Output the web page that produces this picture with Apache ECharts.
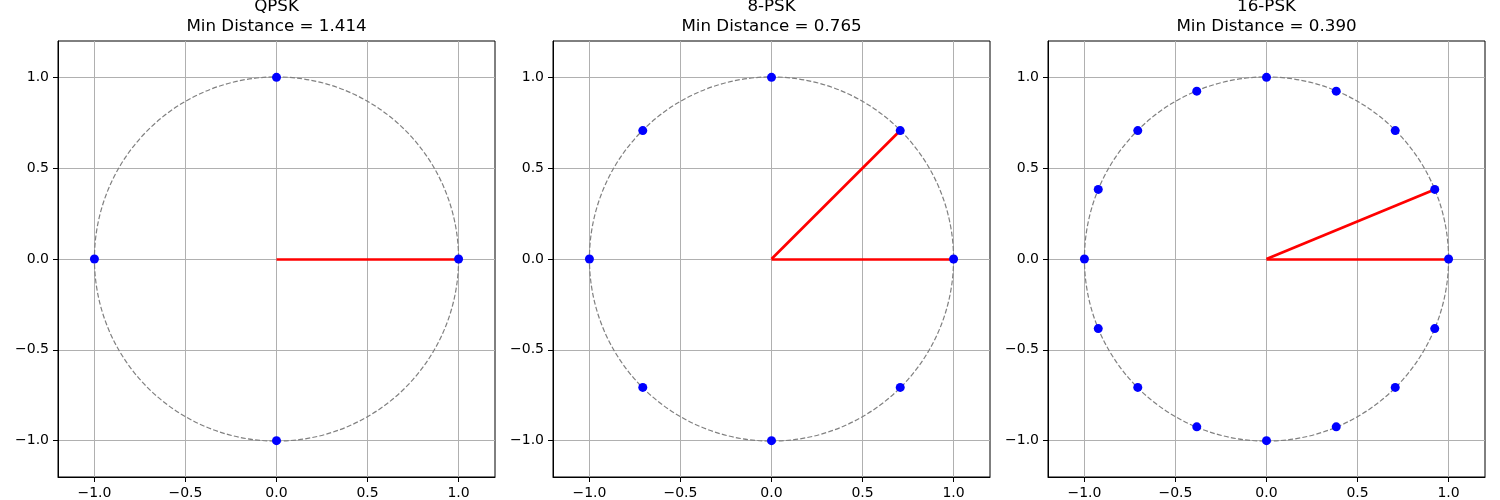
<!DOCTYPE html>
<html>
<head>
<meta charset="utf-8">
<title>PSK constellations</title>
<script src="https://cdn.jsdelivr.net/npm/echarts@6/dist/echarts.min.js"></script>
<style>
    html, body { margin: 0; padding: 0; background: #fff; }
    #main { width: 1500px; height: 500px; }
</style>
</head>
<body>
<div id="main"></div>
<script>
// constellation points
var qpskPoints = [[1, 0], [0, 1], [-1, 0], [0, -1]];
var psk8Points = [[1, 0], [0.707, 0.707], [0, 1], [-0.707, 0.707],
    [-1, 0], [-0.707, -0.707], [0, -1], [0.707, -0.707]];
var psk16Points = [[1, 0], [0.924, 0.383], [0.707, 0.707], [0.383, 0.924],
    [0, 1], [-0.383, 0.924], [-0.707, 0.707], [-0.924, 0.383],
    [-1, 0], [-0.924, -0.383], [-0.707, -0.707], [-0.383, -0.924],
    [0, -1], [0.383, -0.924], [0.707, -0.707], [0.924, -0.383]];

// red segments from the origin
var qpskLines = [[[0, 0], [1, 0]]];
var psk8Lines = [[[0, 0], [1, 0]], [[0, 0], [0.707, 0.707]]];
var psk16Lines = [[[0, 0], [1, 0]], [[0, 0], [0.924, 0.383]]];

var titles = ['QPSK\nMin Distance = 1.414', '8-PSK\nMin Distance = 0.765', '16-PSK\nMin Distance = 0.390'];
var tickValues = [-1, -0.5, 0, 0.5, 1];
var unitCircle = [[0, 0, 1]]; // center x, center y, radius

var allPoints = [qpskPoints, psk8Points, psk16Points];
var allLines = [qpskLines, psk8Lines, psk16Lines];

var myChart = echarts.init(document.getElementById('main'));
var font = 'DejaVu Sans';
var lefts = [58, 553, 1048];
var size = 437;

var fmt = function (v) {
    return (v < 0 ? '\u2212' : '') + Math.abs(v).toFixed(1);
};

var axisCommon = function (idx) {
    return {
        type: 'value',
        gridIndex: idx,
        min: -1.2,
        max: 1.2,
        axisLine: { show: true, onZero: false, lineStyle: { color: '#000', width: 1 } },
        axisTick: { show: true, inside: false, length: 5, customValues: tickValues, lineStyle: { color: '#000' } },
        axisLabel: { customValues: tickValues, formatter: fmt, color: '#000', fontFamily: font, fontSize: 14, margin: 9 },
        splitLine: { show: true, lineStyle: { color: '#b0b0b0', width: 1 } }
    };
};

var grid = [], xAxis = [], yAxis = [], title = [], series = [];
for (var i = 0; i < 3; i++) {
    grid.push({ left: lefts[i], top: 41, width: size, height: size, show: true, borderColor: '#000', borderWidth: 1 });
    xAxis.push(axisCommon(i));
    yAxis.push(axisCommon(i));
    title.push({
        text: titles[i],
        left: lefts[i] + size / 2,
        top: -3,
        padding: 0,
        textAlign: 'center',
        textStyle: { fontFamily: font, fontSize: 16.7, fontWeight: 'normal', color: '#000', lineHeight: 20 }
    });

    // dashed unit circle
    series.push({
        type: 'custom',
        xAxisIndex: i,
        yAxisIndex: i,
        data: unitCircle,
        silent: true,
        z: 1,
        renderItem: function (params, api) {
            var c = api.coord([api.value(0), api.value(1)]);
            var r = api.size([api.value(2), 0])[0];
            return {
                type: 'circle',
                shape: { cx: c[0], cy: c[1], r: r },
                style: { fill: null, stroke: '#808080', lineWidth: 1.2, lineDash: [5, 2.2] }
            };
        }
    });

    series.push({
        type: 'lines',
        coordinateSystem: 'cartesian2d',
        xAxisIndex: i,
        yAxisIndex: i,
        z: 2,
        lineStyle: { color: '#ff0000', width: 2.7, opacity: 1 },
        data: allLines[i].map(function (seg) { return { coords: seg }; })
    });

    series.push({
        type: 'scatter',
        xAxisIndex: i,
        yAxisIndex: i,
        z: 3,
        symbolSize: 9,
        itemStyle: { color: '#0000ff', opacity: 1 },
        data: allPoints[i]
    });
}

var option = {
    animation: false,
    backgroundColor: '#fff',
    title: title,
    grid: grid,
    xAxis: xAxis,
    yAxis: yAxis,
    series: series
};
myChart.setOption(option);
</script>
</body>
</html>
